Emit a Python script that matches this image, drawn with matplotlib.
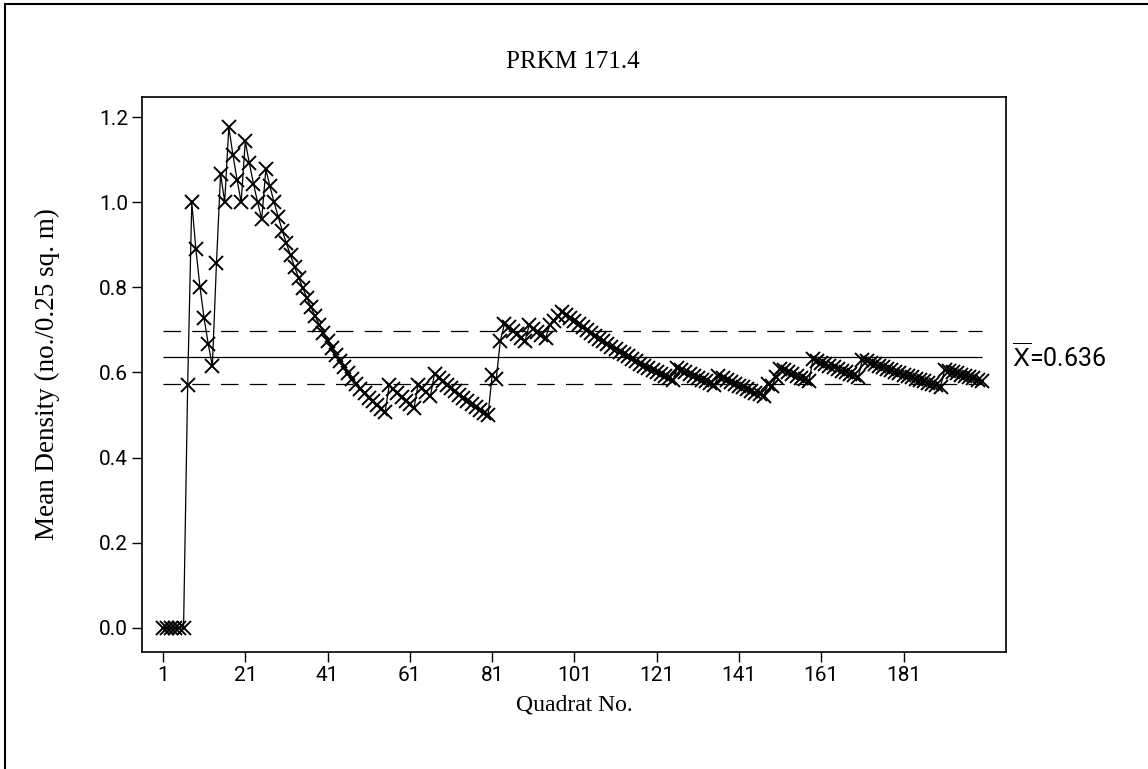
"""Cumulative mean density by quadrat, PRKM 171.4 (Minitab-style redraw)."""

import matplotlib

matplotlib.use("Agg")
import matplotlib.pyplot as plt
import numpy as np
from matplotlib.patches import Rectangle

# running mean density, quadrats 1..200
mean_density = [
    0.0, 0.0, 0.0, 0.0, 0.0, 0.0,
    0.571, 1.0, 0.889, 0.8, 0.727, 0.667, 0.615,
    0.857, 1.067, 1.0, 1.176, 1.111, 1.053, 1.0,
    1.143, 1.091, 1.043, 1.0, 0.96, 1.077, 1.037,
    1.0, 0.966, 0.933, 0.903, 0.875, 0.848, 0.822, 0.798, 0.775, 0.753,
    0.732, 0.712, 0.693, 0.675, 0.658, 0.642, 0.627, 0.612, 0.598, 0.585,
    0.573, 0.562, 0.551, 0.541, 0.532, 0.523, 0.515, 0.508,
    0.571, 0.561, 0.552, 0.542, 0.533, 0.525, 0.516,
    0.571, 0.563, 0.554, 0.545,
    0.597, 0.588, 0.580, 0.571, 0.563, 0.556, 0.548, 0.541, 0.533, 0.526,
    0.519, 0.513, 0.506, 0.500,
    0.593, 0.585, 0.675,
    0.714, 0.706, 0.698, 0.690, 0.682, 0.674, 0.711,
    0.703, 0.696, 0.688, 0.681, 0.712, 0.722, 0.733, 0.742,
    0.734, 0.727, 0.720, 0.713, 0.706, 0.699, 0.692, 0.686, 0.679, 0.673,
    0.667, 0.661, 0.655, 0.649, 0.643, 0.638, 0.632, 0.627, 0.621, 0.616,
    0.611, 0.606, 0.601, 0.596, 0.591, 0.586, 0.582,
    0.611, 0.606, 0.602, 0.597, 0.592, 0.588, 0.583, 0.579, 0.575, 0.570,
    0.592, 0.587, 0.582, 0.578, 0.573, 0.569, 0.565, 0.561, 0.557, 0.553,
    0.549, 0.545,
    0.572, 0.568, 0.590,
    0.609, 0.605, 0.600, 0.596, 0.592, 0.588, 0.584, 0.580,
    0.631, 0.627, 0.623, 0.619, 0.615, 0.612, 0.608, 0.604, 0.601, 0.597,
    0.593, 0.590,
    0.630, 0.626, 0.623, 0.619, 0.615, 0.612, 0.608, 0.605, 0.602, 0.598,
    0.595, 0.592, 0.589, 0.585, 0.582, 0.579, 0.576, 0.573, 0.570, 0.567,
    0.607, 0.604, 0.601, 0.598, 0.595, 0.592, 0.589, 0.586, 0.583, 0.580,
]
quadrat = np.arange(1, len(mean_density) + 1)

overall_mean = 0.636
upper_limit = 0.697
lower_limit = 0.572

x_ticks = [1, 21, 41, 61, 81, 101, 121, 141, 161, 181]
y_ticks = [0.0, 0.2, 0.4, 0.6, 0.8, 1.0, 1.2]

serif = ["Liberation Serif", "DejaVu Serif"]
sans = ["Roboto", "DejaVu Sans"]

W, H = 1148, 769
fig = plt.figure(figsize=(W / 100, H / 100), dpi=100)
ax = fig.add_axes([142 / W, 1 - 652 / H, (1006 - 142) / W, (652 - 97) / H])

# reference lines
ax.hlines(overall_mean, quadrat[0], quadrat[-1], colors="black", lw=0.9)
for lim in (upper_limit, lower_limit):
    ax.hlines(lim, quadrat[0], quadrat[-1], colors="black", lw=0.9,
              linestyles=(0, (14, 9)))

ax.plot(quadrat, mean_density, color="black", lw=0.9, marker="x",
        markersize=10, markeredgewidth=1.4)

ax.set_xlim(-4.1, 205.9)
ax.set_ylim(-0.0564, 1.247)
ax.set_xticks(x_ticks)
ax.set_yticks(y_ticks)
ax.set_yticklabels([f"{v:.1f}" for v in y_ticks])
ax.tick_params(direction="out", length=7, width=1, labelsize=15, pad=3)
for lab in ax.get_xticklabels() + ax.get_yticklabels():
    lab.set_family(sans)
for sp in ax.spines.values():
    sp.set_linewidth(1.2)

ax.set_xlabel("Quadrat No.", family=serif, fontsize=17, labelpad=7)
ax.set_ylabel("Mean Density (no./0.25 sq. m)", family=serif, fontsize=19.5,
              labelpad=28)
fig.text(573 / W, 1 - 62 / H, "PRKM 171.4", family=serif, fontsize=18,
         ha="center", va="center")

ax.text(1.007, overall_mean, r"$\overline{\mathrm{X}}$=0.636",
        transform=ax.get_yaxis_transform(), fontsize=18, va="center",
        ha="left", family=sans)

# outer frame, only left and top edges fall inside the image
fig.patches.append(Rectangle((4.5 / W, -0.05), 1.2, 1.05 - 3.5 / H,
                             transform=fig.transFigure, fill=False,
                             lw=1.5, ec="black"))

fig.savefig("out.png", dpi=100)
plt.close(fig)
